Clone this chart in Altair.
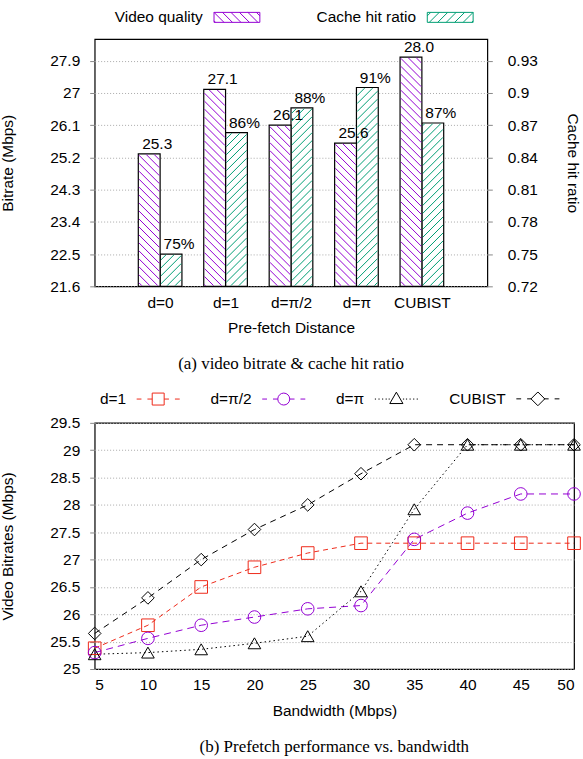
import math
import json
import altair as alt
import pandas as pd

# ---------------- data ----------------
categories = ["d=0", "d=1", "d=π/2", "d=π", "CUBIST"]
bitrate = [25.3, 27.1, 26.1, 25.6, 28.0]
bitrate_text = ["25.3", "27.1", "26.1", "25.6", "28.0"]
hit_ratio = [0.75, 0.863, 0.886, 0.905, 0.872]
hit_text = ["75%", "86%", "88%", "91%", "87%"]
bar_series = ["Video quality", "Cache hit ratio"]
bitrate_ticks = [21.6, 22.5, 23.4, 24.3, 25.2, 26.1, 27.0, 27.9]
ratio_ticks = [0.72, 0.75, 0.78, 0.81, 0.84, 0.87, 0.90, 0.93]

bandwidth = [5, 10, 15, 20, 25, 30, 35, 40, 45, 50]
line_series = ["d=1", "d=π/2", "d=π", "CUBIST"]
rate_d1 = [25.38, 25.8, 26.5, 26.86, 27.12, 27.3, 27.3, 27.3, 27.3, 27.3]
rate_dhalfpi = [25.3, 25.56, 25.8, 25.95, 26.1, 26.16, 27.37, 27.85, 28.2, 28.2]
rate_dpi = [25.27, 25.3, 25.36, 25.47, 25.6, 26.42, 27.92, 29.1, 29.1, 29.1]
rate_cubist = [25.65, 26.3, 27.0, 27.55, 28.0, 28.57, 29.1, 29.1, 29.1, 29.1]
rate_ticks = [25, 25.5, 26, 26.5, 27, 27.5, 28, 28.5, 29, 29.5]

# ---------------- style ----------------
FONT = "Liberation Sans"
SERIF = "Liberation Serif"
FS = 15.5
PURPLE = "#9400d3"
GREEN = "#009e73"
RED = "#ee2a1a"
BLACK = "#000000"
NUM_LABEL = "format(datum.value, '~g')"

W1, H1 = 394, 248
W2, H2 = 481, 247
X_DOM = [-1, 5]
L_DOM = [21.6, 28.5]
R_DOM = [0.72, 0.95]
BAR_W = 1 / 3
HATCH_STEP = 8.0


def hatch_rows(x0s, x1s, tops, ydom, kind):
    kx = W1 / (X_DOM[1] - X_DOM[0])
    ky = H1 / (ydom[1] - ydom[0])
    rows = []
    ins = 0.7
    for x0, x1, top in zip(x0s, x1s, tops):
        u0 = (x0 - X_DOM[0]) * kx + ins
        u1 = (x1 - X_DOM[0]) * kx - ins
        v0 = ins
        v1 = (top - ydom[0]) * ky - ins
        segs = []
        if kind == "back":  # "\"  u + v = c
            c = math.ceil((u0 + v0) / HATCH_STEP) * HATCH_STEP
            while c < u1 + v1:
                lo = max(u0, c - v1)
                hi = min(u1, c - v0)
                if hi > lo:
                    segs.append((lo, c - lo, hi, c - hi))
                c += HATCH_STEP
        else:  # "/"  v - u = c
            c = math.ceil((v0 - u1) / HATCH_STEP) * HATCH_STEP
            while c < v1 - u0:
                lo = max(u0, v0 - c)
                hi = min(u1, v1 - c)
                if hi > lo:
                    segs.append((lo, lo + c, hi, hi + c))
                c += HATCH_STEP
        for ua, va, ub, vb in segs:
            rows.append({
                "x": ua / kx + X_DOM[0], "x2": ub / kx + X_DOM[0],
                "y": va / ky + ydom[0], "y2": vb / ky + ydom[0],
            })
    return pd.DataFrame(rows)


def swatch_path(kind, s, a=4.6, step=1.7):
    # legend swatch: hatched box, shifted s units right so it sits after its label
    p = f"M{s - a:.2f},-1H{s + a:.2f}V1H{s - a:.2f}Z"
    c = -a - 2
    while c < a + 2:
        if kind == "back":  # screen "\" : y = x + c
            lo, hi = max(-a, -1 - c), min(a, 1 - c)
            if hi > lo:
                p += f"M{s + lo:.2f},{lo + c:.2f}L{s + hi:.2f},{hi + c:.2f}"
        else:  # screen "/" : y = -x + c
            lo, hi = max(-a, c - 1), min(a, c + 1)
            if hi > lo:
                p += f"M{s + lo:.2f},{c - lo:.2f}L{s + hi:.2f},{c - hi:.2f}"
        c += step
    return p


def key_path(marker, dotted, s):
    if dotted:
        pts = [-3.6, -3.0, -2.4, -1.8, -1.3, 1.1, 1.6, 2.2, 2.8, 3.4]
        line = "".join(f"M{s + v:.2f},0h0.2" for v in pts)
    else:
        segs = [(-3.6, -2.8), (-1.8, -1.0), (1.0, 1.8), (2.8, 3.6)]
        line = "".join(f"M{s + a:.2f},0H{s + b:.2f}" for a, b in segs)
    shapes = {
        "square": f"M{s - 1:.2f},-1H{s + 1:.2f}V1H{s - 1:.2f}Z",
        "circle": f"M{s + 1:.2f},0A1,1,0,1,1,{s - 1:.2f},0A1,1,0,1,1,{s + 1:.2f},0",
        "triangle": f"M{s:.2f},-1.15L{s + 1.1:.2f},0.75H{s - 1.1:.2f}Z",
        "diamond": f"M{s:.2f},-1.15L{s + 1.15:.2f},0L{s:.2f},1.15L{s - 1.15:.2f},0Z",
    }
    return line + shapes[marker]


idx = list(range(len(categories)))
px0 = [i - BAR_W for i in idx]
gx1 = [i + BAR_W for i in idx]

bars_l = pd.DataFrame({"x": px0, "x2": idx, "y": bitrate, "y2": [L_DOM[0]] * 5})
bars_r = pd.DataFrame({"x": idx, "x2": gx1, "y": hit_ratio, "y2": [R_DOM[0]] * 5})
text_l = pd.DataFrame({"x": [i - BAR_W / 2 for i in idx], "y": bitrate, "t": bitrate_text})
text_r = pd.DataFrame({"x": [i + BAR_W / 2 for i in idx], "y": hit_ratio, "t": hit_text})
hatch_l = hatch_rows(px0, idx, bitrate, L_DOM, "back")
hatch_r = hatch_rows(idx, gx1, hit_ratio, R_DOM, "fwd")

label_expr = json.dumps(categories, ensure_ascii=False) + "[datum.value]"
x_top = alt.X("x:Q", scale=alt.Scale(domain=X_DOM, nice=False, zero=False),
              axis=alt.Axis(values=idx, labelExpr=label_expr, title="Pre-fetch Distance",
                            grid=False, ticks=False, labelPadding=9, titlePadding=10))
y_left = alt.Y("y:Q", scale=alt.Scale(domain=L_DOM, nice=False, zero=False),
               axis=alt.Axis(orient="left", values=bitrate_ticks, labelExpr=NUM_LABEL, grid=True,
                             title="Bitrate (Mbps)", titlePadding=34, labelPadding=10))
y_right = alt.Y("y:Q", scale=alt.Scale(domain=R_DOM, nice=False, zero=False),
                axis=alt.Axis(orient="right", values=ratio_ticks, labelExpr=NUM_LABEL, grid=False,
                              title="Cache hit ratio", titlePadding=27, labelPadding=15))

top_legend = alt.Legend(
    title=None, orient="none", legendX=89, legendY=-30, direction="horizontal", columns=2,
    labelAlign="right", symbolSize=100, columnPadding=54,
    symbolStrokeWidth=1, symbolOpacity=1, symbolFillColor="transparent",
    labelFont=FONT, labelFontSize=FS, labelColor=BLACK,
)


def bar_side(bars, hatch, texts, yenc, colour):
    b = alt.Chart(bars).mark_bar(fill="white", stroke=BLACK, strokeWidth=1.2).encode(
        x=x_top, x2="x2:Q", y=yenc, y2="y2:Q")
    h = alt.Chart(hatch).mark_rule(strokeWidth=1, color=colour).encode(
        x=x_top, x2="x2:Q", y=yenc, y2="y2:Q")
    t = alt.Chart(texts).mark_text(font=FONT, fontSize=FS, baseline="bottom", dx=8, dy=-2,
                                   color=BLACK).encode(x=x_top, y=yenc, text="t:N")
    return alt.layer(b, h, t)


top_key = alt.Chart(pd.DataFrame({"series": bar_series})).mark_point(
    opacity=0, size=0, filled=False).encode(
    color=alt.Color("series:N", scale=alt.Scale(domain=bar_series, range=[PURPLE, GREEN]),
                    legend=top_legend),
    shape=alt.Shape("series:N", scale=alt.Scale(
        domain=bar_series, range=[swatch_path("back", 9.2), swatch_path("fwd", 9.2)]),
        legend=top_legend))

top = alt.layer(bar_side(bars_r, hatch_r, text_r, y_right, GREEN),
                bar_side(bars_l, hatch_l, text_l, y_left, PURPLE),
                top_key).resolve_scale(y="independent").properties(
    width=W1, height=H1,
    title=alt.TitleParams("(a) video bitrate & cache hit ratio", orient="bottom", font=SERIF,
                          fontSize=17, fontWeight="normal", color=BLACK, offset=20, anchor="middle"))

# ---------------- bottom chart ----------------
rows = []
for name, vals in zip(line_series, [rate_d1, rate_dhalfpi, rate_dpi, rate_cubist]):
    for bw, v in zip(bandwidth, vals):
        rows.append({"bandwidth": bw, "rate": v, "series": name})
lines_df = pd.DataFrame(rows)

KEY_SHIFT = 7.33
line_paths = [
    key_path("square", False, KEY_SHIFT),
    key_path("circle", False, KEY_SHIFT),
    key_path("triangle", True, KEY_SHIFT),
    key_path("diamond", False, KEY_SHIFT),
]
line_colours = [RED, PURPLE, BLACK, BLACK]

bot_legend = alt.Legend(
    title=None, orient="none", legendX=12, legendY=-32, direction="horizontal", columns=4,
    labelAlign="right", symbolSize=144, columnPadding=28,
    symbolStrokeWidth=1, symbolOpacity=1, symbolFillColor="transparent",
    labelFont=FONT, labelFontSize=FS, labelColor=BLACK,
)
x_bot = alt.X("bandwidth:Q", scale=alt.Scale(domain=[5, 50], nice=False, zero=False),
              axis=alt.Axis(values=bandwidth, title="Bandwidth (Mbps)", grid=False, ticks=False,
                            labelPadding=9, titlePadding=10))
y_bot = alt.Y("rate:Q", scale=alt.Scale(domain=[25, 29.5], nice=False, zero=False),
              axis=alt.Axis(values=rate_ticks, labelExpr=NUM_LABEL, grid=True,
                            title="Video Bitrates (Mbps)", titlePadding=34, labelPadding=10))

lines = alt.Chart(lines_df).mark_line(strokeWidth=1).encode(
    x=x_bot, y=y_bot,
    color=alt.Color("series:N", scale=alt.Scale(domain=line_series, range=line_colours),
                    legend=None),
    strokeDash=alt.StrokeDash("series:N", scale=alt.Scale(
        domain=line_series, range=[[5, 4], [7, 5], [1.5, 3], [6, 5]]), legend=None))
points = alt.Chart(lines_df).mark_point(filled=False, size=160, strokeWidth=1, opacity=1).encode(
    x=x_bot, y=y_bot,
    color=alt.Color("series:N", scale=alt.Scale(domain=line_series, range=line_colours),
                    legend=None),
    shape=alt.Shape("series:N", scale=alt.Scale(
        domain=line_series, range=["square", "circle", "triangle-up", "diamond"]), legend=None))
bot_key = alt.Chart(pd.DataFrame({"series": line_series})).mark_point(
    opacity=0, size=0, filled=False).encode(
    color=alt.Color("series:N", scale=alt.Scale(domain=line_series, range=line_colours),
                    legend=bot_legend),
    shape=alt.Shape("series:N", scale=alt.Scale(domain=line_series, range=line_paths),
                    legend=bot_legend))

bottom = alt.layer(lines, points, bot_key).resolve_scale(
    shape="independent", color="independent").properties(
    width=W2, height=H2,
    title=alt.TitleParams("(b) Prefetch performance vs. bandwidth", orient="bottom", font=SERIF,
                          fontSize=17, fontWeight="normal", color=BLACK, offset=20, anchor="middle"))

chart = alt.vconcat(top, bottom, spacing=17).resolve_scale(
    color="independent", shape="independent", strokeDash="independent"
).properties(
    padding={"left": 0, "top": 7, "right": 0, "bottom": 0}, background="white"
).configure_view(stroke=BLACK, strokeWidth=1.2).configure_axis(
    labelFont=FONT, labelFontSize=FS, labelColor=BLACK,
    titleFont=FONT, titleFontSize=FS, titleFontWeight="normal", titleColor=BLACK,
    domain=False, gridColor="#aaaaaa", gridDash=[1, 2], gridWidth=1,
)

chart.save("out.html", embed_options={"renderer": "svg", "actions": False})
